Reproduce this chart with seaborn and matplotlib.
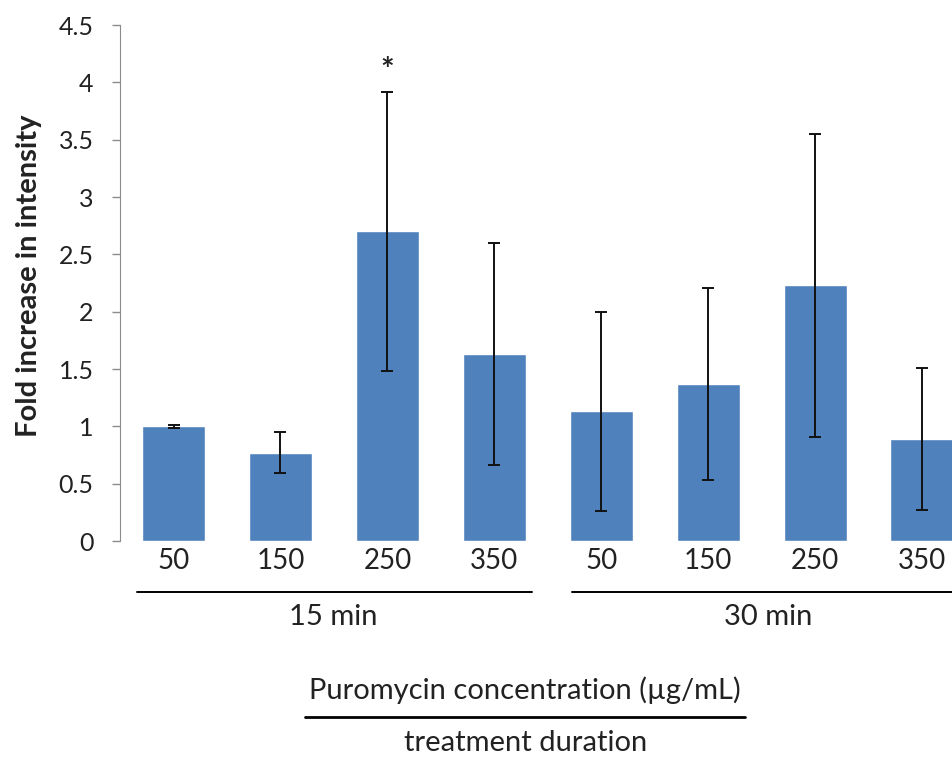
import numpy as np
import pandas as pd
import matplotlib
matplotlib.use("Agg")
import matplotlib.pyplot as plt
import seaborn as sns

# data
durations = ["15 min", "30 min"]
concentrations = ["50", "150", "250", "350"]
fold_15 = [1.00, 0.77, 2.70, 1.63]
fold_30 = [1.13, 1.37, 2.23, 0.89]
err_15 = [0.01, 0.18, 1.22, 0.97]
err_30 = [0.87, 0.84, 1.32, 0.62]
significant = ["15 min 250"]

df = pd.DataFrame({
    "duration": np.repeat(durations, len(concentrations)),
    "conc": concentrations * len(durations),
    "fold": fold_15 + fold_30,
    "err": err_15 + err_30,
})
df["key"] = df["duration"] + " " + df["conc"]

sns.set_style("white")
plt.rcParams["font.family"] = ["Lato", "DejaVu Sans"]
txt = "#222222"

fig = plt.figure(figsize=(9.53, 7.62), dpi=100)
ax = fig.add_axes([0.126, 0.29, 0.874, 0.677])

sns.barplot(data=df, x="key", y="fold", color="#4F81BD", saturation=1,
            width=0.59, errorbar=None, ax=ax)
xpos = np.arange(len(df))
ax.errorbar(xpos, df["fold"], yerr=df["err"], fmt="none", ecolor="#111111",
            elinewidth=1.4, capsize=4.3, capthick=1.4)

for i, k in enumerate(df["key"]):
    if k in significant:
        ax.text(i, df["fold"][i] + df["err"][i] + 0.18, "*", ha="center",
                va="center", fontsize=23, fontweight="bold", color=txt)

ax.set_xlim(-0.5, 7.29)
ax.set_ylim(0, 4.5)
yt = np.arange(0, 4.51, 0.5)
ax.set_yticks(yt)
ax.set_yticklabels([f"{v:g}" for v in yt], fontsize=18, color=txt)
ax.set_xticks(xpos)
ax.set_xticklabels(df["conc"], fontsize=20, color=txt)
ax.tick_params(axis="x", length=0, pad=5)
ax.tick_params(axis="y", left=True, length=6, width=1, color="#8c8c8c", pad=13)
for s in ["top", "right", "bottom"]:
    ax.spines[s].set_visible(False)
ax.spines["left"].set_color("#8c8c8c")
ax.set_xlabel("")
ax.set_ylabel("Fold increase in intensity", fontsize=21, fontweight="bold", color=txt)
ax.yaxis.set_label_coords(-0.094, 0.515)

# group brackets and labels (figure coords)
W, H = 953, 762
def fx(px):
    return px / W
def fy(py):
    return 1 - py / H

fig.add_artist(plt.Line2D([fx(137), fx(532)], [fy(592), fy(592)], color="black", lw=1.4))
fig.add_artist(plt.Line2D([fx(572), fx(953)], [fy(592), fy(592)], color="black", lw=1.4))
fig.text(fx(333), fy(617), durations[0], ha="center", va="center", fontsize=21, color=txt)
fig.text(fx(768), fy(617), durations[1], ha="center", va="center", fontsize=21, color=txt)

fig.text(fx(525), fy(690), "Puromycin concentration (\u00b5g/mL)", ha="center", va="center",
         fontsize=21, color=txt)
fig.add_artist(plt.Line2D([fx(305), fx(745)], [fy(717), fy(717)], color="black", lw=2))
fig.text(fx(526), fy(743), "treatment duration", ha="center", va="center", fontsize=21, color=txt)

fig.savefig("out.png", dpi=100)
